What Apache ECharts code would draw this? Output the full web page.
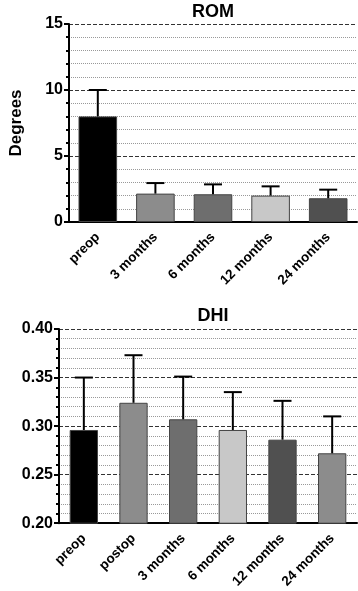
<!DOCTYPE html>
<html lang="en">
<head>
    <meta charset="UTF-8">
    <title>ROM and DHI</title>
    <script src="https://cdn.jsdelivr.net/npm/echarts@6/dist/echarts.min.js"></script>
    <style>
        html, body, #chart {
            width: 358px;
            height: 591px;
            padding: 0;
            margin: 0;
            background: #fff;
        }
    </style>
</head>
<body>
<div id="chart"></div>
<script>
    var FONT = "Arial, 'Liberation Sans', sans-serif";

    // ROM panel
    var romCategories = ["preop", "3 months", "6 months", "12 months", "24 months"];
    var romMeans = [8.0, 2.15, 2.1, 2.0, 1.8];
    var romErrors = [2.0, 0.8, 0.75, 0.7, 0.65];
    var romColors = ["#000000", "#8c8c8c", "#6e6e6e", "#c8c8c8", "#505050"];

    // DHI panel
    var dhiCategories = ["preop", "postop", "3 months", "6 months", "12 months", "24 months"];
    var dhiMeans = [0.296, 0.324, 0.307, 0.296, 0.286, 0.272];
    var dhiErrors = [0.054, 0.049, 0.044, 0.039, 0.040, 0.038];
    var dhiColors = ["#000000", "#8c8c8c", "#6e6e6e", "#c8c8c8", "#505050", "#8c8c8c"];

    function barData(means, colors) {
        return means.map(function (v, i) {
            return {value: v, itemStyle: {color: colors[i]}};
        });
    }

    function errData(means, errs) {
        return means.map(function (v, i) {
            return [i, v, v + errs[i]];
        });
    }

    function errorBar(params, api) {
        var base = api.coord([api.value(0), api.value(1)]);
        var top = api.coord([api.value(0), api.value(2)]);
        var half = 9;
        var style = {stroke: "#000", lineWidth: 2};
        return {
            type: "group",
            children: [{
                type: "line",
                shape: {x1: base[0], y1: base[1], x2: top[0], y2: top[1]},
                style: style
            }, {
                type: "line",
                shape: {x1: top[0] - half, y1: top[1], x2: top[0] + half, y2: top[1]},
                style: style
            }]
        };
    }

    function valueAxis(idx, min, max, interval, fmt, name) {
        return {
            type: "value",
            gridIndex: idx,
            min: min,
            max: max,
            interval: interval,
            name: name,
            nameLocation: "middle",
            nameGap: 44,
            nameTextStyle: {fontFamily: FONT, fontWeight: "bold", fontSize: 17, color: "#000"},
            axisLine: {show: true, lineStyle: {color: "#000", width: 2}},
            axisTick: {show: true, length: 5, lineStyle: {color: "#000", width: 2}},
            minorTick: {show: true, splitNumber: 5, length: 3, lineStyle: {color: "#000", width: 2}},
            axisLabel: {
                fontFamily: FONT, fontWeight: "bold", fontSize: 16, color: "#000", margin: 6,
                formatter: fmt
            },
            splitLine: {show: true, lineStyle: {color: "#333", type: "dashed", width: 1}},
            minorSplitLine: {show: true, lineStyle: {color: "#999", type: "dotted", width: 1}}
        };
    }

    function catAxis(idx, cats) {
        return {
            type: "category",
            gridIndex: idx,
            data: cats,
            axisLine: {lineStyle: {color: "#000", width: 2}},
            axisTick: {alignWithLabel: true, length: 6, lineStyle: {color: "#000", width: 2}},
            axisLabel: {
                rotate: 45, interval: 0, margin: 13,
                fontFamily: FONT, fontWeight: "bold", fontSize: 13.5, color: "#000"
            }
        };
    }

    var chart = echarts.init(document.getElementById("chart"));
    chart.setOption({
        animation: false,
        backgroundColor: "#fff",
        title: [{
            text: "ROM", left: 208, top: -2, textAlign: "center",
            textStyle: {fontFamily: FONT, fontWeight: "bold", fontSize: 18, color: "#000"}
        }, {
            text: "DHI", left: 208, top: 302, textAlign: "center",
            textStyle: {fontFamily: FONT, fontWeight: "bold", fontSize: 18, color: "#000"}
        }],
        grid: [
            {left: 59, top: 24, width: 298, height: 198},
            {left: 59, top: 329, width: 298, height: 197}
        ],
        xAxis: [catAxis(0, romCategories), catAxis(1, dhiCategories)],
        yAxis: [
            valueAxis(0, 0, 15, 5, function (v) { return String(v); }, "Degrees"),
            valueAxis(1, 0.2, 0.4, 0.05, function (v) { return v.toFixed(2); }, "")
        ],
        series: [{
            type: "bar",
            xAxisIndex: 0, yAxisIndex: 0,
            barWidth: "67%",
            data: barData(romMeans, romColors),
            itemStyle: {borderColor: "#444", borderWidth: 1},
            z: 3
        }, {
            type: "custom",
            xAxisIndex: 0, yAxisIndex: 0,
            renderItem: errorBar,
            data: errData(romMeans, romErrors),
            z: 4
        }, {
            type: "bar",
            xAxisIndex: 1, yAxisIndex: 1,
            barWidth: "57%",
            data: barData(dhiMeans, dhiColors),
            itemStyle: {borderColor: "#444", borderWidth: 1},
            z: 3
        }, {
            type: "custom",
            xAxisIndex: 1, yAxisIndex: 1,
            renderItem: errorBar,
            data: errData(dhiMeans, dhiErrors),
            z: 4
        }]
    });
</script>
</body>
</html>
